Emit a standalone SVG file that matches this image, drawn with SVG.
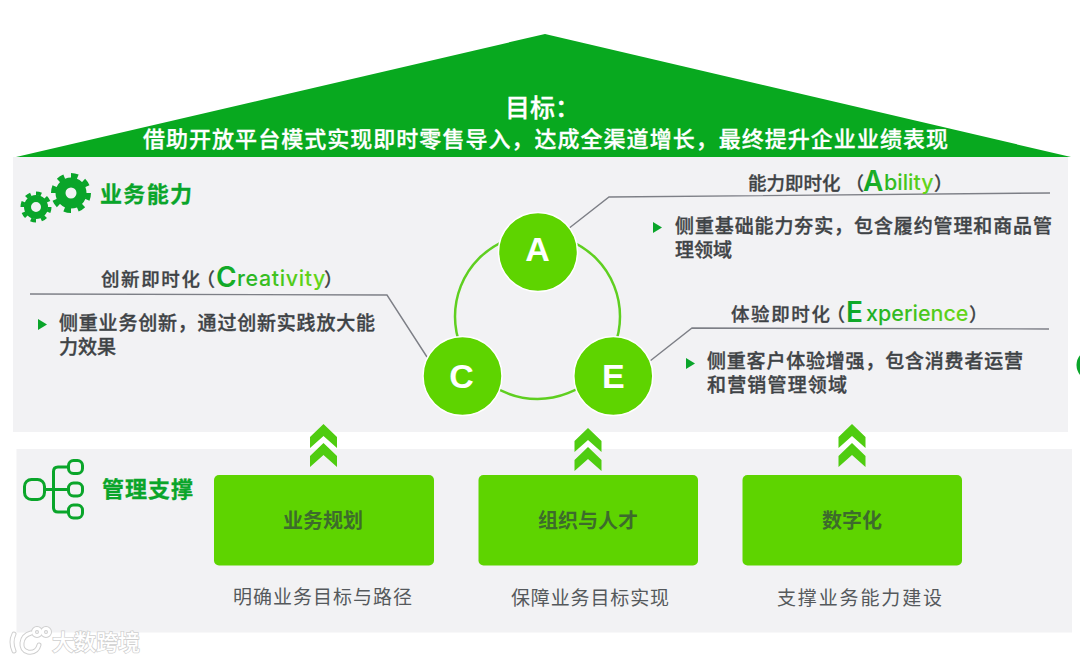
<svg xmlns="http://www.w3.org/2000/svg" width="1080" height="661" viewBox="0 0 1080 661">
<style>
text{font-family:"Noto Sans CJK SC","Liberation Sans",sans-serif}
.panel{fill:#f2f2f4}
.head{fill:#3f4346;font-size:18.500px;font-weight:500;stroke:#3f4346;stroke-width:.3}
.body{fill:#3f4346;font-size:19px;font-weight:500;stroke:#3f4346;stroke-width:.35}
.desc{fill:#55595c;font-size:19px;font-weight:400}
.box{fill:#5ed400}
.boxt{fill:#3d6b2c;font-size:20px;font-weight:700;text-anchor:middle}
.sec{fill:#0aa52a;font-size:22px;font-weight:700;stroke:#0aa52a;stroke-width:.3}
.lat{font-family:"Inter","Liberation Sans",sans-serif;font-weight:500;stroke:none}
.big{font-size:28px;font-weight:600}
.small{font-size:21.500px}
.p{font-feature-settings:"palt"}
.node{fill:#5ed400;stroke:#fff;stroke-width:1.5}
.nodet{fill:#fff;font-family:"Liberation Sans",sans-serif;font-size:34px;font-weight:700;text-anchor:middle}
.lead{fill:none;stroke:#7d7f86;stroke-width:1.4}
.chev{fill:#4fcc10}
.bul{fill:#0aa52a}
</style>
<defs>
<polygon id="chevron" points="0,0 13.500,13 13.500,24 0,12 -13.500,24 -13.500,13"/>
<linearGradient id="gA" gradientUnits="userSpaceOnUse" x1="864" y1="0" x2="925" y2="0"><stop offset="0" stop-color="#0aa52a"/><stop offset="1" stop-color="#62d41a"/></linearGradient>
<linearGradient id="gC" gradientUnits="userSpaceOnUse" x1="217" y1="0" x2="310" y2="0"><stop offset="0" stop-color="#0aa52a"/><stop offset="1" stop-color="#62d41a"/></linearGradient>
<linearGradient id="gE" gradientUnits="userSpaceOnUse" x1="847" y1="0" x2="955" y2="0"><stop offset="0" stop-color="#0aa52a"/><stop offset="1" stop-color="#62d41a"/></linearGradient>
</defs>
<rect width="1080" height="661" fill="#fff"/>
<rect class="panel" x="13" y="157" width="1055" height="275"/>
<rect class="panel" x="16.500" y="449" width="1055.500" height="183.500"/>
<g id="roof">
<polygon points="545,34 1071,157 16,157" fill="#08a91f"/>
<text x="505" y="117" font-size="25" font-weight="500" fill="#fff" stroke="#fff" stroke-width=".3">目标：</text>
<text x="143" y="147" font-size="22" font-weight="500" fill="#fff" stroke="#fff" stroke-width=".3" textLength="805" lengthAdjust="spacing">借助开放平台模式实现即时零售导入，达成全渠道增长，最终提升企业业绩表现</text>
</g>
<g id="section-ability">
<g fill="none" stroke="#0aa52a">
<circle cx="71" cy="193" r="10.500" stroke-width="10"/>
<circle cx="71" cy="193" r="17.500" stroke-width="5" pathLength="80" stroke-dasharray="5 5"/>
<circle cx="36" cy="207" r="8.500" stroke-width="7"/>
<circle cx="36" cy="207" r="13.500" stroke-width="4" pathLength="80" stroke-dasharray="5 5"/>
</g>
<text class="sec" x="100" y="202" textLength="92" lengthAdjust="spacing">业务能力</text>
</g>
<g id="connectors">
<circle cx="537.500" cy="316.500" r="82.500" fill="none" stroke="#5fcf20" stroke-width="2.500"/>
<polyline class="lead" points="568,229 609,197 1050,193"/>
<polyline class="lead" points="30,294 387,295 427,357"/>
<polyline class="lead" points="650,361 692,328 1049,329"/>
<use href="#chevron" class="chev" x="323.500" y="424"/>
<use href="#chevron" class="chev" x="323.500" y="443"/>
<use href="#chevron" class="chev" x="588" y="428"/>
<use href="#chevron" class="chev" x="588" y="447"/>
<use href="#chevron" class="chev" x="852" y="424"/>
<use href="#chevron" class="chev" x="852" y="443"/>
</g>
<g id="node-a"><circle class="node" cx="538" cy="252" r="39.500"/><text class="nodet" x="537.500" y="261">A</text></g>
<g id="node-c"><circle class="node" cx="462.500" cy="376" r="39.500"/><text class="nodet" x="461.500" y="388">C</text></g>
<g id="node-e"><circle class="node" cx="613.300" cy="376" r="39.500"/><text class="nodet" x="613.300" y="388">E</text></g>
<g id="label-ability">
<text class="head" x="748" y="190">能力即时化<tspan class="p" x="854">（</tspan><tspan class="lat big" x="863" y="191" fill="url(#gA)">A</tspan><tspan class="lat small" x="884" y="190" fill="url(#gA)">bility</tspan><tspan x="934" y="190">）</tspan></text>
<polygon class="bul" points="653,222 662,227.500 653,233"/>
<text class="body" x="675" y="233" textLength="377" lengthAdjust="spacing">侧重基础能力夯实，包含履约管理和商品管</text>
<text class="body" x="675" y="257">理领域</text>
</g>
<g id="label-creativity">
<text class="head" x="101" y="286" letter-spacing="1.600">创新即时化<tspan class="p" x="205" letter-spacing="0">（</tspan><tspan class="lat big" x="216" y="287" fill="url(#gC)" letter-spacing="0">C</tspan><tspan class="lat small" x="237" y="286" fill="url(#gC)" letter-spacing=".6">reativity</tspan><tspan x="324" y="286" letter-spacing="0">）</tspan></text>
<polygon class="bul" points="38,319 47,324.500 38,330"/>
<text class="body" x="59" y="330" textLength="316" lengthAdjust="spacing">侧重业务创新，通过创新实践放大能</text>
<text class="body" x="59" y="354">力效果</text>
</g>
<g id="label-experience">
<text class="head" x="731" y="321" letter-spacing="1.600">体验即时化<tspan class="p" x="835" letter-spacing="0">（</tspan><tspan class="lat big" x="846" y="322" fill="url(#gE)" letter-spacing="0">E</tspan><tspan class="lat small" x="866" y="321" fill="url(#gE)" letter-spacing="0">xperience</tspan><tspan x="969" y="321" letter-spacing="0">）</tspan></text>
<polygon class="bul" points="686,358 695,363.500 686,369"/>
<text class="body" x="707" y="368" textLength="316" lengthAdjust="spacing">侧重客户体验增强，包含消费者运营</text>
<text class="body" x="707" y="392" textLength="140" lengthAdjust="spacing">和营销管理领域</text>
</g>
<g id="section-support">
<g fill="none" stroke="#0aa52a" stroke-width="3">
<rect x="24.500" y="479.500" width="20" height="20" rx="7"/>
<rect x="68.500" y="460.500" width="14" height="13" rx="5"/>
<rect x="68.500" y="483" width="14" height="13" rx="5"/>
<rect x="68.500" y="505" width="14" height="13" rx="5"/>
<path d="M44.500 489.500H68.500M68.500 467H58q-4.500 0-4.500 4.500V507.500q0 4.500 4.500 4.500H68.500"/>
</g>
<text class="sec" x="102" y="497" textLength="91" lengthAdjust="spacing">管理支撑</text>
</g>
<g id="box-planning">
<rect class="box" x="214" y="475" width="220" height="90.500" rx="5"/>
<text class="boxt" x="323" y="528">业务规划</text>
<text class="desc" x="233" y="604" textLength="179" lengthAdjust="spacing">明确业务目标与路径</text>
</g>
<g id="box-org">
<rect class="box" x="478.500" y="475" width="219.500" height="90.500" rx="5"/>
<text class="boxt" x="588" y="528">组织与人才</text>
<text class="desc" x="511" y="605" textLength="158" lengthAdjust="spacing">保障业务目标实现</text>
</g>
<g id="box-digital">
<rect class="box" x="742.500" y="475" width="219.500" height="90.500" rx="5"/>
<text class="boxt" x="852" y="528">数字化</text>
<text class="desc" x="777" y="605" textLength="165" lengthAdjust="spacing">支撑业务能力建设</text>
</g>
<circle cx="1092" cy="365" r="15.500" fill="#0aa52a"/>
<g id="watermark">
<g fill="none" stroke="#cfcfcf" stroke-width="5" stroke-linecap="round">
<path d="M14 634Q10 642 14 651M31 633C20 636 19 650 28 652C35 653 38 649 39 645"/>
<circle cx="37" cy="632" r="3.500"/><circle cx="46" cy="632" r="3.500"/>
</g>
<g fill="none" stroke="#fff" stroke-width="3" stroke-linecap="round">
<path d="M14 634Q10 642 14 651M31 633C20 636 19 650 28 652C35 653 38 649 39 645"/>
<circle cx="37" cy="632" r="3.500"/><circle cx="46" cy="632" r="3.500"/>
</g>
<text x="52" y="650" font-size="22" font-weight="500" fill="#fff" stroke="#cfcfcf" stroke-width="1.500" paint-order="stroke" textLength="88" lengthAdjust="spacing">大数跨境</text>
</g>
</svg>
